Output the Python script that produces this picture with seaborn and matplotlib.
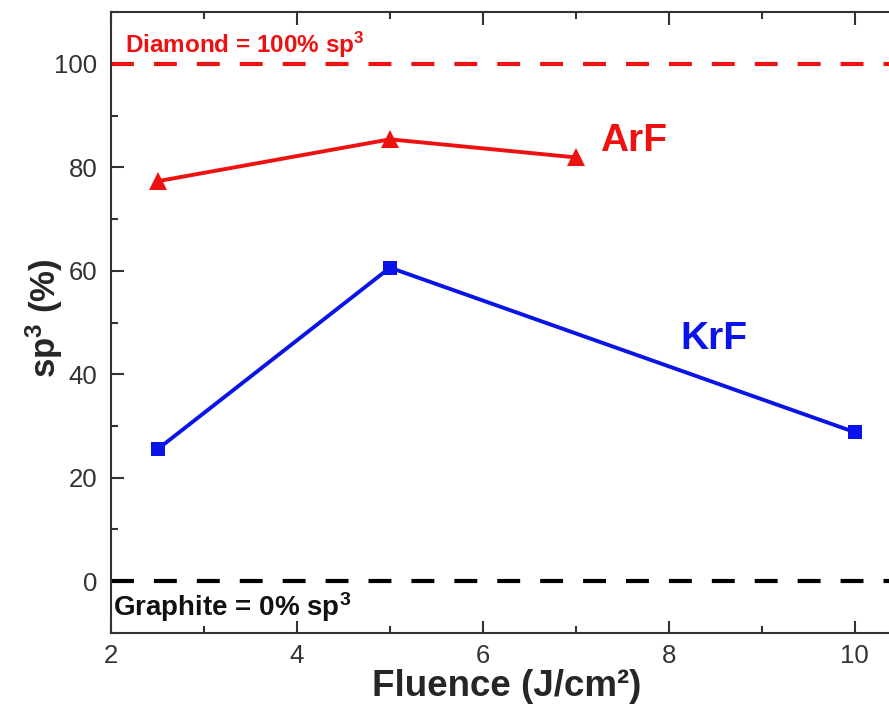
import pandas as pd
import matplotlib.pyplot as plt
import seaborn as sns
from matplotlib.ticker import MultipleLocator

# sp3 fraction vs. laser fluence
fluence_arf = [2.5, 5.0, 7.0]
sp3_arf = [77.3, 85.4, 81.9]
fluence_krf = [2.5, 5.0, 10.0]
sp3_krf = [25.5, 60.6, 28.8]

arf = pd.DataFrame({"Fluence": fluence_arf, "sp3": sp3_arf})
krf = pd.DataFrame({"Fluence": fluence_krf, "sp3": sp3_krf})

sns.set_style("ticks")
plt.rcParams["font.family"] = ["Liberation Sans", "DejaVu Sans"]
plt.rcParams["mathtext.fontset"] = "custom"
plt.rcParams["mathtext.rm"] = "Liberation Sans"
plt.rcParams["mathtext.bf"] = "Liberation Sans:bold"
plt.rcParams["mathtext.default"] = "regular"

fig = plt.figure(figsize=(8.89, 7.15), dpi=100)
# axes run past the right edge, like the cropped original
ax = fig.add_axes([0.1249, 0.1147, 0.889, 0.8685])

# reference levels
ax.axhline(100, color="#ee1111", lw=3, dashes=(5.5, 4.8))
ax.axhline(0, color="black", lw=3, dashes=(5.5, 4.8))

sns.lineplot(data=arf, x="Fluence", y="sp3", ax=ax, color="#ee1111", lw=2.8,
             marker="^", markersize=13, markeredgewidth=0)
sns.lineplot(data=krf, x="Fluence", y="sp3", ax=ax, color="#0a14e6", lw=2.8,
             marker="s", markersize=10, markeredgewidth=0)

ax.text(2.15, 103.7, "Diamond = 100% sp$^3$", color="#ee1111", fontsize=17.5,
        fontweight="bold", va="center", ha="left")
ax.text(2.02, -5.0, "Graphite = 0% sp$^3$", color="#111111", fontsize=20,
        fontweight="bold", va="center", ha="left")
ax.text(7.62, 85.0, "ArF", color="#ee1111", fontsize=28, fontweight="bold",
        va="center", ha="center")
ax.text(8.48, 46.9, "KrF", color="#0a14e6", fontsize=28, fontweight="bold",
        va="center", ha="center")

ax.set_xlim(2, 10.5)
ax.set_ylim(-10, 110)
ax.set_xticks([2, 4, 6, 8, 10])
ax.set_yticks([0, 20, 40, 60, 80, 100])
ax.xaxis.set_minor_locator(MultipleLocator(1))
ax.yaxis.set_minor_locator(MultipleLocator(10))

ax.tick_params(which="both", direction="in", top=True, right=True,
               width=1.5, color="#333333")
ax.tick_params(which="major", length=9, labelsize=18.5, labelcolor="#333333")
ax.tick_params(which="minor", length=5)
ax.tick_params(axis="y", which="major", pad=10)
ax.tick_params(axis="x", which="major", pad=8)

for s in ax.spines.values():
    s.set_linewidth(1.5)
    s.set_color("#333333")

ax.set_xlabel("Fluence (J/cm²)", fontsize=26.5, fontweight="bold", labelpad=1)
ax.set_ylabel(r"sp$^\mathbf{3}$ (%)", fontsize=25, fontweight="bold")
ax.yaxis.set_label_coords(-0.058, 0.507)

plt.savefig("out.png", dpi=100)
